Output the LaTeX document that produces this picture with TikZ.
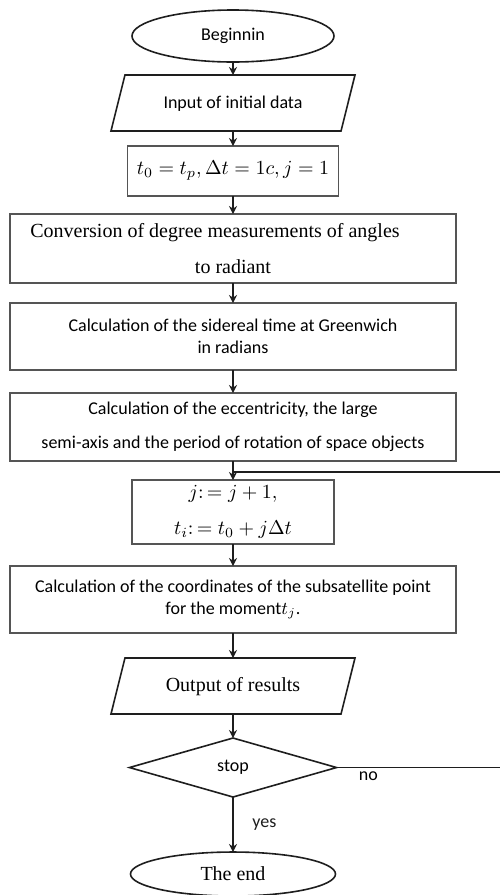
\documentclass[tikz,border=0pt]{standalone}
\usepackage[no-math]{fontspec}
\newfontfamily\calfont{Carlito}
\newfontfamily\serfont{Liberation Serif}
\usetikzlibrary{shapes.geometric, arrows.meta, positioning}
\definecolor{charcoal}{RGB}{30, 30, 30}
\definecolor{boxgray}{RGB}{85, 85, 85}

\begin{document}
\begin{tikzpicture}[
            term/.style={draw=charcoal, thick, ellipse, minimum width=101pt, inner sep=0pt, outer sep=0pt},
            io/.style={draw=charcoal, thick, trapezium, trapezium left angle=76, trapezium right angle=104, trapezium stretches body, minimum width=122pt, inner xsep=0pt, inner ysep=9.5pt, text height=7pt, text depth=2pt, outer sep=0pt},
            proc/.style={draw=boxgray, semithick, rectangle, minimum width=223pt, align=center, inner sep=0pt, outer sep=0pt},
            cond/.style={draw=charcoal, thick, diamond, aspect=3.5, minimum width=103.5pt, minimum height=29.5pt, inner sep=0pt, outer sep=0pt},
            txt/.style={font=\calfont\fontsize{9}{11}\selectfont},
            ser/.style={font=\serfont\fontsize{10}{12}\selectfont},
            mth/.style={font=\fontsize{10}{12}\selectfont},
            flow/.style={->, >={Stealth[length=4pt, width=4pt]}, thick, charcoal},
            back/.style={draw=charcoal, semithick}
        ]
            \useasboundingbox (0,0) rectangle (249.5pt,-447.5pt);

            \node[term, txt, minimum height=26pt] (start) at (116.5pt,-18pt) {Beginnin};
            \node[io, txt, below=6.5pt of start] (input) {Input of initial data};
            \node[proc, mth, minimum width=105.5pt, minimum height=25pt, below=7.5pt of input] (init) {$t_0 = t_p, \Delta t = 1c, j = 1$};
            \node[proc, ser, minimum height=34.5pt, below=9pt of init] (conv) {Conversion of degree measurements of angles\rule{18pt}{0pt}\\[6pt]to radiant};
            \node[proc, txt, minimum height=33.5pt, below=10pt of conv] (sidt) {Calculation of the sidereal time at Greenwich\\in radians};
            \node[proc, txt, minimum height=34pt, below=11.5pt of sidt] (ecc) {Calculation of the eccentricity, the large\\[6pt]semi-axis and the period of rotation of space objects};
            \node[proc, mth, minimum width=101pt, minimum height=32pt, below=9.5pt of ecc] (incr) {$j\colon= j + 1,$\\[6pt]$t_i\colon= t_0 + j\Delta t$};
            \node[proc, txt, minimum height=33.5pt, below=11pt of incr] (subp) {Calculation of the coordinates of the subsatellite point\\for the moment$t_j$.};
            \node[io, ser, below=12.5pt of subp] (output) {Output of results};
            \node[cond, txt, below=12pt of output] (stop) {stop};
            \node[term, ser, minimum width=102.5pt, minimum height=22pt, below=27.5pt of stop] (finish) {The end};

            % loop back
            \coordinate[below=5.5pt of ecc.south] (join);
            \coordinate[right=84pt of stop.east] (noturn);

            \draw[flow] (start) -- (input);
            \draw[flow] (input) -- (init);
            \draw[flow] (init) -- (conv);
            \draw[flow] (conv) -- (sidt);
            \draw[flow] (sidt) -- (ecc);
            \draw[flow] (ecc) -- (incr);
            \draw[flow] (incr) -- (subp);
            \draw[flow] (subp) -- (output);
            \draw[flow] (output) -- (stop);
            \draw[flow] (stop) -- (finish) node[midway, right=6pt, txt] (yeslbl) {yes};
            \draw[back] (stop.east) -- (noturn) node[pos=0.19, below=1pt, txt, inner sep=1pt] (nolbl) {no};
            \draw[back] (noturn) |- (join);
        \end{tikzpicture}
\end{document}
